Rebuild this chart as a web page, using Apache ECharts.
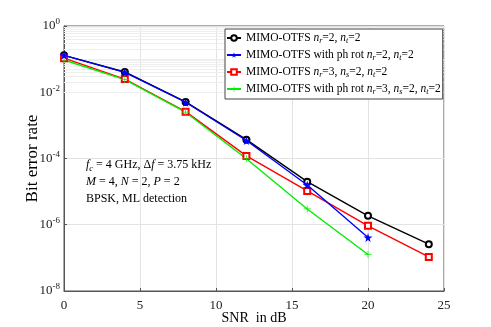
<!DOCTYPE html>
<html>
<head>
<meta charset="utf-8">
<script src="https://cdn.jsdelivr.net/npm/echarts@6/dist/echarts.min.js"></script>
<style>
  html, body { margin: 0; padding: 0; background: #fff; }
  #chart { width: 491px; height: 327px; }
</style>
</head>
<body>
<div id="chart"></div>
<script>
// SNR (dB) 横轴
const snr = [0, 4, 8, 12, 16, 20, 24];

// BER 各曲线
const berMimo = [0.13, 0.041, 0.0051, 3.7e-4, 2.0e-5, 1.86e-6, 2.6e-7];
const berPhRot = [0.13, 0.040, 0.0050, 3.5e-4, 1.58e-5, 4.1e-7];
const berMimo3 = [0.107, 0.025, 0.0026, 1.2e-4, 1.05e-5, 9.3e-7, 1.07e-7];
const berPhRot3 = [0.094, 0.024, 0.0025, 9.8e-5, 3.0e-6, 1.26e-7];

const seriesNames = ['mimo', 'phrot', 'mimo3', 'phrot3'];
const legendLabels = [
    'MIMO-OTFS {i|n}{s|r}=2, {i|n}{s|t}=2',
    'MIMO-OTFS with ph rot {i|n}{s|r}=2, {i|n}{s|t}=2',
    'MIMO-OTFS {i|n}{s|r}=3, {i|n}{s|s}=2, {i|n}{s|t}=2',
    'MIMO-OTFS with ph rot {i|n}{s|r}=3, {i|n}{s|s}=2, {i|n}{s|t}=2'
];

const yDecades = [-8, -7, -6, -5, -4, -3, -2, -1, 0];

const FONT = '"Liberation Serif", "DejaVu Serif", serif';

function pairs(ys) {
    return ys.map((y, i) => [snr[i], y]);
}

// 对数次网格线
const minorGrid = [];
yDecades.forEach(e => {
    if (e === 0) return;
    for (let k = 1; k <= 9; k++) {
        if (k === 1 && e % 2 === 0) continue;
        minorGrid.push({ yAxis: k * Math.pow(10, e) });
    }
});

const starPath = 'path://M50,0 L61,35 L98,35 L68,57 L79,91 L50,70 L21,91 L32,57 L2,35 L39,35 Z';
const plusPath = 'path://M45,0 H55 V45 H100 V55 H55 V100 H45 V55 H0 V45 H45 Z';

function richText(size) {
    return {
        i: { fontStyle: 'italic', fontFamily: FONT, fontSize: size, color: '#000' },
        s: { fontStyle: 'italic', fontFamily: FONT, fontSize: size * 0.7, color: '#000', verticalAlign: 'bottom', padding: [6, 0, 0, 0] }
    };
}

const chart = echarts.init(document.getElementById('chart'));

const option = {
    backgroundColor: '#fff',
    animation: false,
    grid: {
        left: 64, right: 47, top: 26, bottom: 36,
        outerBoundsMode: 'none',
        containLabel: false,
        show: true, borderColor: '#555', borderWidth: 1
    },
    legend: {
        data: seriesNames,
        orient: 'vertical',
        left: 225, top: 29,
        z: 20,
        backgroundColor: '#fff',
        borderColor: '#444', borderWidth: 1,
        padding: [3, 2, 3, 1],
        itemGap: 4,
        itemWidth: 14, itemHeight: 7,
        textStyle: { fontFamily: FONT, fontSize: 11.5, color: '#000', rich: richText(11.5) },
        formatter: name => legendLabels[seriesNames.indexOf(name)]
    },
    xAxis: {
        type: 'value',
        min: 0, max: 25, interval: 5,
        name: 'SNR  in dB',
        nameLocation: 'middle', nameGap: 20,
        nameMoveOverlap: false,
        nameTextStyle: { fontFamily: FONT, fontSize: 14, color: '#000' },
        axisLine: { lineStyle: { color: '#555' } },
        axisTick: { inside: true, length: 3, lineStyle: { color: '#555' } },
        axisLabel: { fontFamily: FONT, fontSize: 13, color: '#222', margin: 8 },
        splitLine: { show: true, lineStyle: { color: '#e3e3e3' } }
    },
    yAxis: {
        type: 'log', logBase: 10,
        min: 1e-8, max: 1, interval: 2,
        name: 'Bit error rate',
        nameLocation: 'middle', nameGap: 23,
        nameMoveOverlap: false,
        nameTextStyle: { fontFamily: FONT, fontSize: 17, color: '#000' },
        axisLine: { lineStyle: { color: '#555' } },
        axisTick: { inside: true, length: 3, lineStyle: { color: '#555' } },
        axisLabel: {
            margin: 4,
            formatter: v => '{b|10}{e|' + Math.round(Math.log10(v)) + '}',
            rich: {
                b: { fontFamily: FONT, fontSize: 13, color: '#222' },
                e: { fontFamily: FONT, fontSize: 9, color: '#222', verticalAlign: 'top', padding: [0, 0, 8, 0] }
            }
        },
        splitLine: { show: true, lineStyle: { color: '#e3e3e3' } }
    },
    graphic: [{
        type: 'text',
        left: 86, top: 156,
        z: 20,
        style: {
            text: '{i|f}{s|c} = 4 GHz, Δ{i|f} = 3.75 kHz\n{i|M} = 4, {i|N} = 2, {i|P} = 2\nBPSK, ML detection',
            fontFamily: FONT, fontSize: 12, lineHeight: 17, fill: '#000',
            rich: richText(12)
        }
    }],
    series: [
        {
            name: 'grid', type: 'line', data: [], silent: true, z: 1,
            markLine: {
                silent: true, symbol: 'none', animation: false, z: 1,
                label: { show: false },
                lineStyle: { color: '#eeeeee', width: 1, type: 'solid' },
                data: minorGrid
            }
        },
        {
            name: 'mimo', type: 'line', data: pairs(berMimo),
            color: '#000', symbol: 'emptyCircle', symbolSize: 6,
            lineStyle: { width: 1.4 }, z: 3
        },
        {
            name: 'phrot', type: 'line', data: pairs(berPhRot),
            color: '#0000ff', symbol: starPath, symbolSize: 9,
            lineStyle: { width: 1.4 }, z: 4
        },
        {
            name: 'mimo3', type: 'line', data: pairs(berMimo3),
            color: '#ff0000', symbol: 'emptyRect', symbolSize: 6,
            lineStyle: { width: 1.4 }, z: 3
        },
        {
            name: 'phrot3', type: 'line', data: pairs(berPhRot3),
            color: '#00ee00', symbol: plusPath, symbolSize: 7,
            lineStyle: { width: 1.4 }, z: 3
        }
    ]
};

chart.setOption(option);
window.addEventListener('resize', () => chart.resize());
</script>
</body>
</html>
